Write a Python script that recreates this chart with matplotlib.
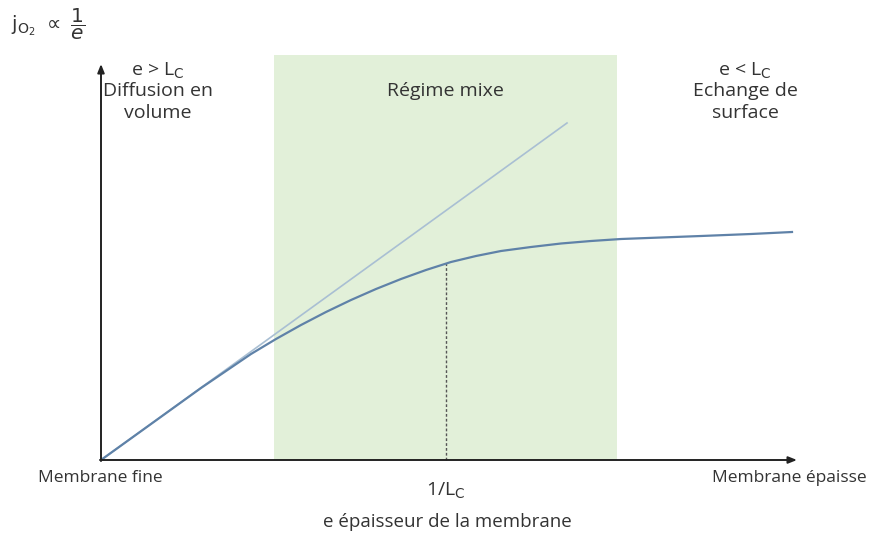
import matplotlib
matplotlib.use('Agg')
import matplotlib.pyplot as plt

plt.rcParams['font.family'] = ['Open Sans', 'DejaVu Sans']

# courbe j_O2 en fonction de l'epaisseur (unites ~ pixels)
courbe_x = [0, 50, 100, 150, 175, 200, 225, 250, 275, 300, 325, 350, 375, 400,
            430, 460, 490, 520, 560, 600, 650, 691]
courbe_y = [0, 36, 72, 106, 121, 135, 148, 160, 171, 181, 190, 198, 204, 209,
            213, 216.5, 219, 221, 222.5, 224, 226, 228]

# tangente a l'origine
tangente_x = [0, 466]
tangente_y = [0, 337]

# zone "Regime mixe"
zone_x = [173, 516]
zone_haut = 405

# position de 1/Lc
x_lc = 345
y_lc = 197

fig = plt.figure(figsize=(8.69, 5.36), dpi=100)
ax = fig.add_axes([0, 0, 1, 1])
ax.set_xlim(-101, 869 - 101)
ax.set_ylim(-(536 - 460), 460)
ax.axis('off')

ax.fill_between(zone_x, 0, zone_haut, color='#e2f0d9', lw=0, zorder=0)

ax.plot(tangente_x, tangente_y, color='#a9bfd3', lw=1.2, zorder=2)
ax.plot(courbe_x, courbe_y, color='#5f82a8', lw=1.6, zorder=3)
ax.plot([x_lc, x_lc], [0, y_lc], color='#555555', lw=1, ls=(0, (2, 1.5)), zorder=2)

# axes avec fleches
fleche = dict(arrowstyle='-|>,head_length=0.5,head_width=0.2', color='#222222', lw=1.4,
              shrinkA=0, shrinkB=0)
ax.annotate('', xy=(0, 396), xytext=(0, -1), arrowprops=fleche, zorder=4)
ax.annotate('', xy=(696, 0), xytext=(-1, 0), arrowprops=fleche, zorder=4)

c = '#333333'
fs = 14
ax.text(-90, 436, r'$\mathrm{j_{O_2}}\ \propto\ \dfrac{1}{e}$', fontsize=14.5,
        family='DejaVu Serif', color=c, ha='left', va='center')

ax.text(57, 389, r'e > L$_\mathrm{C}$', ha='center', va='center', fontsize=fs, color=c)
ax.text(57, 369, 'Diffusion en', ha='center', va='center', fontsize=fs, color=c)
ax.text(57, 347, 'volume', ha='center', va='center', fontsize=fs, color=c)

ax.text(344, 369, 'Régime mixe', ha='center', va='center', fontsize=fs, color=c)

ax.text(644, 389, r'e < L$_\mathrm{C}$', ha='center', va='center', fontsize=fs, color=c)
ax.text(644, 369, 'Echange de', ha='center', va='center', fontsize=fs, color=c)
ax.text(644, 347, 'surface', ha='center', va='center', fontsize=fs, color=c)

ax.text(-1, -18, 'Membrane fine', ha='center', va='center', fontsize=12.5, color=c)
ax.text(766, -18, 'Membrane épaisse', ha='right', va='center', fontsize=12.5, color=c)
ax.text(x_lc, -31, r'1/L$_\mathrm{C}$', ha='center', va='center', fontsize=fs, color=c)
ax.text(346, -62, 'e épaisseur de la membrane', ha='center', va='center', fontsize=13.5, color=c)

fig.savefig('out.png', dpi=100)
